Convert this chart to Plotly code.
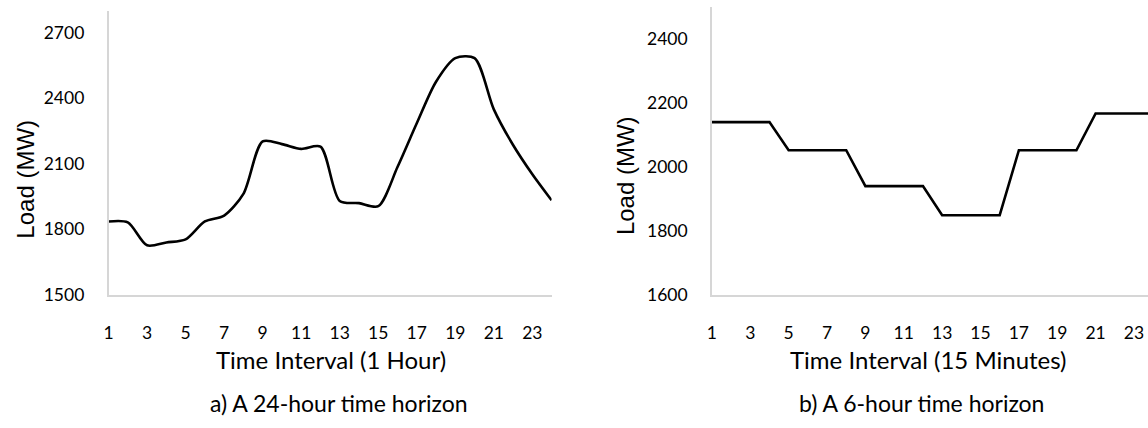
import plotly.graph_objects as go

# ---- data ----
hours = list(range(1, 25))
load_24h = [1836, 1832, 1727, 1740, 1754, 1836, 1863, 1962, 2202, 2190, 2168, 2178,
            1930, 1920, 1906, 2085, 2285, 2475, 2583, 2583, 2349, 2186, 2052, 1933]

intervals = list(range(1, 25))
load_6h = [2140, 2140, 2140, 2140, 2052, 2052, 2052, 2052, 1940, 1940, 1940, 1940,
           1849, 1849, 1849, 1849, 2052, 2052, 2052, 2052, 2167, 2167, 2167, 2167]

x_ticks = list(range(1, 24, 2))
y_ticks_a = [1500, 1800, 2100, 2400, 2700]
y_ticks_b = [1600, 1800, 2000, 2200, 2400]

W, H = 1148, 428
TICKFONT = dict(family="Lato, Open Sans, sans-serif", size=17.5, color="#000")
TITLEFONT = dict(family="Lato, Open Sans, sans-serif", size=24, color="#000")
CAPFONT = dict(family="Lato, Open Sans, sans-serif", size=23, color="#000")
AXFONT = dict(family="Liberation Sans, Arial, sans-serif", size=24, color="#000")

fig = go.Figure()
fig.add_trace(go.Scatter(x=hours, y=load_24h, mode="lines",
                         line=dict(color="black", width=2.6, shape="spline", smoothing=0.8),
                         xaxis="x", yaxis="y", showlegend=False, hoverinfo="skip"))
fig.add_trace(go.Scatter(x=intervals, y=load_6h, mode="lines",
                         line=dict(color="black", width=2.6),
                         xaxis="x2", yaxis="y2", showlegend=False, hoverinfo="skip"))

def px(x):
    return x / W

def py(y):
    return 1 - y / H

axis_common = dict(showgrid=False, zeroline=False, showline=True, linecolor="#d6d6d6",
                   linewidth=1.5, tickfont=TICKFONT, ticks="")

fig.update_layout(
    width=W, height=H, margin=dict(l=0, r=0, t=0, b=0),
    paper_bgcolor="white", plot_bgcolor="white",
    xaxis=dict(domain=[px(104), px(549)], range=[1, 24], tickvals=x_ticks,
               anchor="y", ticklabelstandoff=21, **axis_common),
    yaxis=dict(domain=[py(302), py(11)], range=[1500, 2800], tickvals=y_ticks_a,
               anchor="x", ticklabelstandoff=19, **axis_common),
    xaxis2=dict(domain=[px(710), 1.0], range=[1, 23.73], tickvals=x_ticks,
                anchor="y2", ticklabelstandoff=21, **axis_common),
    yaxis2=dict(domain=[py(302), py(7)], range=[1600, 2500], tickvals=y_ticks_b,
                anchor="x2", ticklabelstandoff=19, **axis_common),
)

annos = [
    ("Time Interval (1 Hour)", 327, 368, TITLEFONT),
    ("a) A 24-hour time horizon", 335, 413, CAPFONT),
    ("Time Interval (15 Minutes)", 928, 368, TITLEFONT),
    ("b) A 6-hour time horizon", 921, 413, CAPFONT),
]
for text, x, y, f in annos:
    fig.add_annotation(text=text, x=px(x), y=py(y), xref="paper", yref="paper",
                       showarrow=False, xanchor="center", yanchor="middle", font=f)

for x, y in [(21, 183), (624, 180)]:
    fig.add_annotation(text="Load (MW)", x=px(x), y=py(y), xref="paper", yref="paper",
                       showarrow=False, xanchor="center", yanchor="middle",
                       textangle=-90, font=AXFONT)

fig.write_html("out.html")
